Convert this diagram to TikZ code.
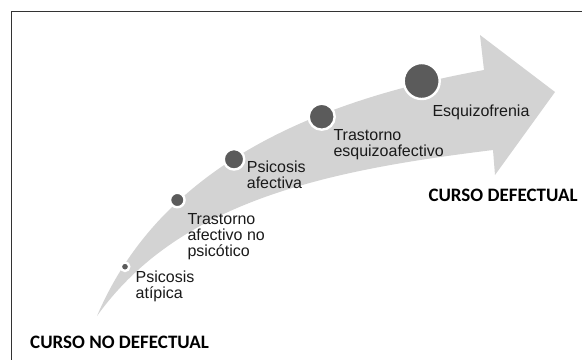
\documentclass[tikz,border=0pt]{standalone}
\usepackage{fontspec}
\setmainfont{Liberation Sans}
\newfontfamily\boldsans{Carlito}
\usepackage{tikz}
\usetikzlibrary{positioning}
\definecolor{arrowgray}{HTML}{D3D3D3}
\definecolor{dotgray}{HTML}{5B5B5B}
\definecolor{framegray}{HTML}{333333}
\definecolor{labelink}{HTML}{1A1A1A}

\begin{document}
\begin{tikzpicture}[x=1pt,y=-1pt]
      \tikzstyle{stagedot}=[circle,fill=dotgray,draw=white,line width=2.4pt,inner sep=0pt]
      \tikzstyle{stagelabel}=[anchor=base west,inner sep=0pt,align=left,text=labelink,font=\fontsize{16}{16}\selectfont]
      \tikzstyle{coursetext}=[anchor=base west,inner sep=0pt,text=black,font=\boldsans\bfseries\fontsize{19}{20}\selectfont]
      \useasboundingbox (0,0) rectangle (582,360);
      \fill[white] (0,0) rectangle (582,360);
      % frame, only top and left sides are in view
      \draw[framegray,line width=1.2pt] (582,11.5) -- (11.5,11.5) -- (11.5,360);
      % curved arrow
      \fill[arrowgray] (97,316) .. controls (155,180) and (290,105) .. (484,70)
        -- (480,35) -- (555,92) -- (495,175) -- (493,150)
        .. controls (330,170) and (180,200) .. cycle;
      % stages along the arrow
      \node[stagedot,minimum size=8.5pt] (atip) at (125,266.7) {};
      \node[stagedot,minimum size=14.5pt] (afno) at (177.3,200) {};
      \node[stagedot,minimum size=20.5pt] (afec) at (234,159.3) {};
      \node[stagedot,minimum size=26pt] (esqaf) at (321.7,116.7) {};
      \node[stagedot,minimum size=36pt] (esq) at (421.7,81) {};
      % labels, anchored at the baseline of their last line
      \node[stagelabel] (atiplabel) at (135.5,298.7) {Psicosis\\atípica};
      \node[stagelabel] (afnolabel) at (187.3,256.3) {Trastorno\\afectivo no\\psicótico};
      \node[stagelabel] (afeclabel) at (246.7,188.3) {Psicosis\\afectiva};
      \node[stagelabel] (esqaflabel) at (333.3,156.7) {Trastorno\\esquizoafectivo};
      \node[stagelabel] (esqlabel) at (432.3,116) {Esquizofrenia};
      \node[coursetext] (defectual) at (428.3,201.7) {CURSO DEFECTUAL};
      \node[coursetext] (nodefectual) at (30,348.3) {CURSO NO DEFECTUAL};
    \end{tikzpicture}
\end{document}
